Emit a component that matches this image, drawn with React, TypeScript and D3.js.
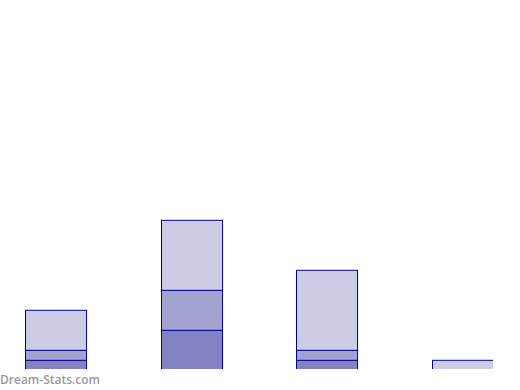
import React, { useEffect, useRef } from "react";
import * as d3 from "d3";

const categories = ["A", "B", "C", "D"];
const seriesNames = ["s1", "s2", "s3"];
const s1 = [1, 4, 1, 0];
const s2 = [1, 4, 1, 0];
const s3 = [4, 7, 8, 1];
const colors = ["#8282c2", "#a3a3d1", "#ccccE5"];

export default function App() {
  const ref = useRef<SVGSVGElement>(null);

  useEffect(() => {
    const width = 520,
      height = 390;
    const plotRight = 493,
      plotBottom = 369;

    const svg = d3.select(ref.current);
    svg.selectAll("*").remove();

    const rows = categories.map((c, i) => ({ cat: c, s1: s1[i], s2: s2[i], s3: s3[i] }));
    const stacked = d3.stack<any>().keys(seriesNames)(rows);

    const x = d3
      .scaleBand()
      .domain(categories)
      .range([-12.3, 530.4])
      .paddingInner(0.55)
      .paddingOuter(0.275);

    const y = d3.scaleLinear().domain([0, 35]).range([370.3, 20.3]);

    svg
      .append("defs")
      .append("clipPath")
      .attr("id", "plot-clip")
      .append("rect")
      .attr("x", 0)
      .attr("y", 0)
      .attr("width", plotRight)
      .attr("height", plotBottom);

    const g = svg.append("g").attr("clip-path", "url(#plot-clip)");

    g.selectAll("g.layer")
      .data(stacked)
      .enter()
      .append("g")
      .attr("class", "layer")
      .attr("fill", (d, i) => colors[i])
      .selectAll("rect")
      .data((d) => d.filter((p) => p[1] - p[0] > 0))
      .enter()
      .append("rect")
      .attr("x", (d) => Math.round(x(d.data.cat)!) + 0.5)
      .attr("width", x.bandwidth())
      .attr("y", (d) => y(d[1]))
      .attr("height", (d) => y(d[0]) - y(d[1]))
      .attr("stroke", "#000090")
      .attr("stroke-width", 1);

    svg
      .append("text")
      .attr("x", 0)
      .attr("y", 384)
      .attr("fill", "#9a9a9a")
      .attr("font-family", "'Open Sans', sans-serif")
      .attr("font-weight", 600)
      .attr("font-size", 12)
      .text("Dream-Stats.com");

    svg.attr("width", width).attr("height", height);
  }, []);

  return (
    <svg
      ref={ref}
      width={520}
      height={390}
      style={{ position: "absolute", left: 0, top: 0, display: "block" }}
    />
  );
}
